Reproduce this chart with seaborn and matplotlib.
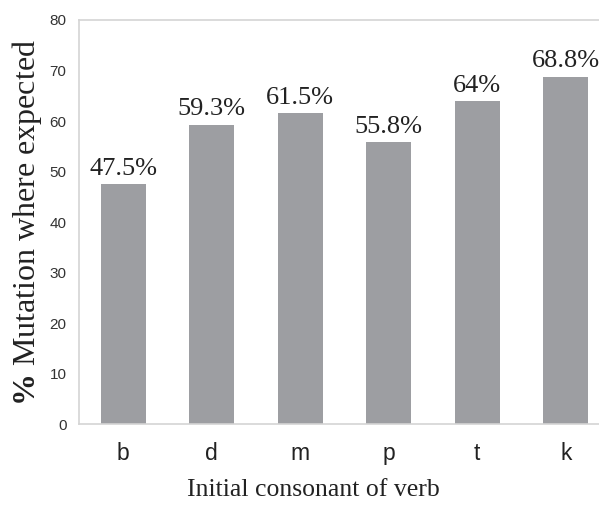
import matplotlib
matplotlib.use("Agg")
import matplotlib.pyplot as plt
import seaborn as sns
import pandas as pd

consonants = ["b", "d", "m", "p", "t", "k"]
mutation_pct = [47.5, 59.3, 61.5, 55.8, 64.0, 68.8]
value_labels = ["47.5%", "59.3%", "61.5%", "55.8%", "64%", "68.8%"]
y_ticks = [0, 10, 20, 30, 40, 50, 60, 70, 80]

sns.set_theme(style="white")
plt.rcParams["mathtext.fontset"] = "custom"
plt.rcParams["mathtext.rm"] = "Liberation Serif"
plt.rcParams["mathtext.bf"] = "Liberation Serif:bold"

df = pd.DataFrame({"consonant": consonants, "pct": mutation_pct})

fig = plt.figure(figsize=(5.99, 5.05), dpi=100)
# plot area runs slightly past the right edge of the canvas
ax = fig.add_axes([0.1319, 0.1598, 0.8865, 0.8006])

sns.barplot(data=df, x="consonant", y="pct", color="#9D9EA2", width=0.51,
            saturation=1, ax=ax, edgecolor="none")

ax.set_xlim(-0.5, 5.5)
ax.set_ylim(0, 80)
ax.set_yticks(y_ticks)
ax.set_yticklabels([str(v) for v in y_ticks], family="Liberation Sans",
                   fontsize=11, color="#333333")
ax.set_xticks(range(len(consonants)))
ax.set_xticklabels(consonants, family="Liberation Sans", fontsize=16.5,
                   color="#222222")
ax.tick_params(axis="y", length=0, pad=9)
ax.tick_params(axis="x", length=0, pad=13)

for side in ["left", "bottom", "top"]:
    ax.spines[side].set_visible(True)
    ax.spines[side].set_color("#D4D4D4")
    ax.spines[side].set_linewidth(1.2)
ax.spines["right"].set_visible(False)

for i, (v, lab) in enumerate(zip(mutation_pct, value_labels)):
    ax.annotate(lab, (i, v), xytext=(0, 3), textcoords="offset points",
                ha="center", va="bottom", family="Liberation Serif",
                fontsize=19, color="#222222")

ax.set_xlabel("Initial consonant of verb", family="Liberation Serif",
              fontsize=18.5, color="#222222")
ax.xaxis.set_label_coords(0.4407, -0.135)
ax.set_ylabel(r"$\mathbf{\%}$ Mutation where expected", family="Liberation Serif",
              fontsize=23, color="#222222", labelpad=4)

fig.savefig("out.png", dpi=100)
